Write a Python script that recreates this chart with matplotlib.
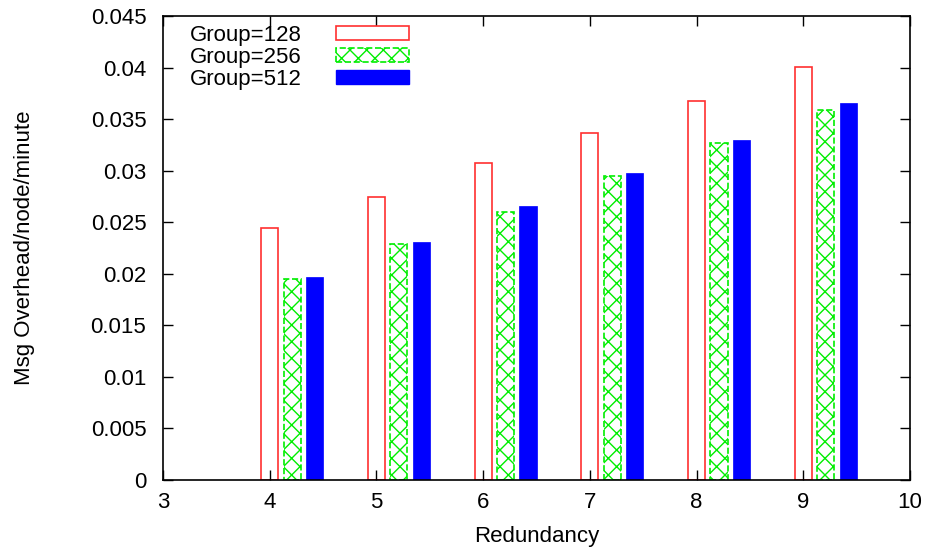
import numpy as np
import matplotlib.pyplot as plt
from matplotlib.patches import Patch

plt.rcParams['font.family'] = ['Liberation Sans', 'DejaVu Sans']
plt.rcParams['hatch.linewidth'] = 1.0

redundancy = [4, 5, 6, 7, 8, 9]
group128 = [0.0244, 0.0274, 0.0307, 0.0337, 0.0368, 0.0401]
group256 = [0.0195, 0.0229, 0.0260, 0.0295, 0.0327, 0.0359]
group512 = [0.0197, 0.0231, 0.0266, 0.0298, 0.0330, 0.0366]

fig = plt.figure(figsize=(9.3, 5.5), dpi=100)
ax = fig.add_axes([0.1753, 0.1273, 0.8032, 0.8436])

x = np.array(redundancy, dtype=float)
w = 0.16
step = 0.21

ax.bar(x, group128, w, facecolor='white', edgecolor='#ff3030', linewidth=1.2)
ax.bar(x + step, group256, w, facecolor='white', edgecolor='#00ee00',
       hatch='xx', linestyle='--', linewidth=1.2)
ax.bar(x + 2 * step, group512, w, facecolor='#0000ff', edgecolor='#0000ff', linewidth=0.5)

ax.set_xlim(3, 10)
ax.set_ylim(0, 0.045)
ax.set_xticks(range(3, 11))
ax.set_yticks(np.arange(0, 0.0451, 0.005))
ax.set_yticklabels(['0', '0.005', '0.01', '0.015', '0.02', '0.025',
                    '0.03', '0.035', '0.04', '0.045'])
ax.tick_params(direction='in', length=7, width=1, top=True, right=True,
               labelsize=16)
ax.tick_params(axis='x', pad=9)
ax.tick_params(axis='y', pad=12)
for s in ax.spines.values():
    s.set_linewidth(1.2)

ax.set_xlabel('Redundancy', fontsize=16, labelpad=9)
ax.set_ylabel('Msg Overhead/node/minute', fontsize=16, labelpad=40)

handles = [
    Patch(facecolor='white', edgecolor='#ff3030', linewidth=1.2, label='Group=128'),
    Patch(facecolor='white', edgecolor='#00ee00', hatch='xx', linestyle='--',
          linewidth=1.2, label='Group=256'),
    Patch(facecolor='#0000ff', edgecolor='#0000ff', label='Group=512'),
]
ax.legend(handles=handles, loc='upper left', bbox_to_anchor=(0.015, 1.015),
          frameon=False, markerfirst=False, fontsize=16, handlelength=3.3,
          handleheight=0.6, labelspacing=0.06, handletextpad=1.55,
          borderaxespad=0.3)

fig.savefig('out.png', dpi=100)
